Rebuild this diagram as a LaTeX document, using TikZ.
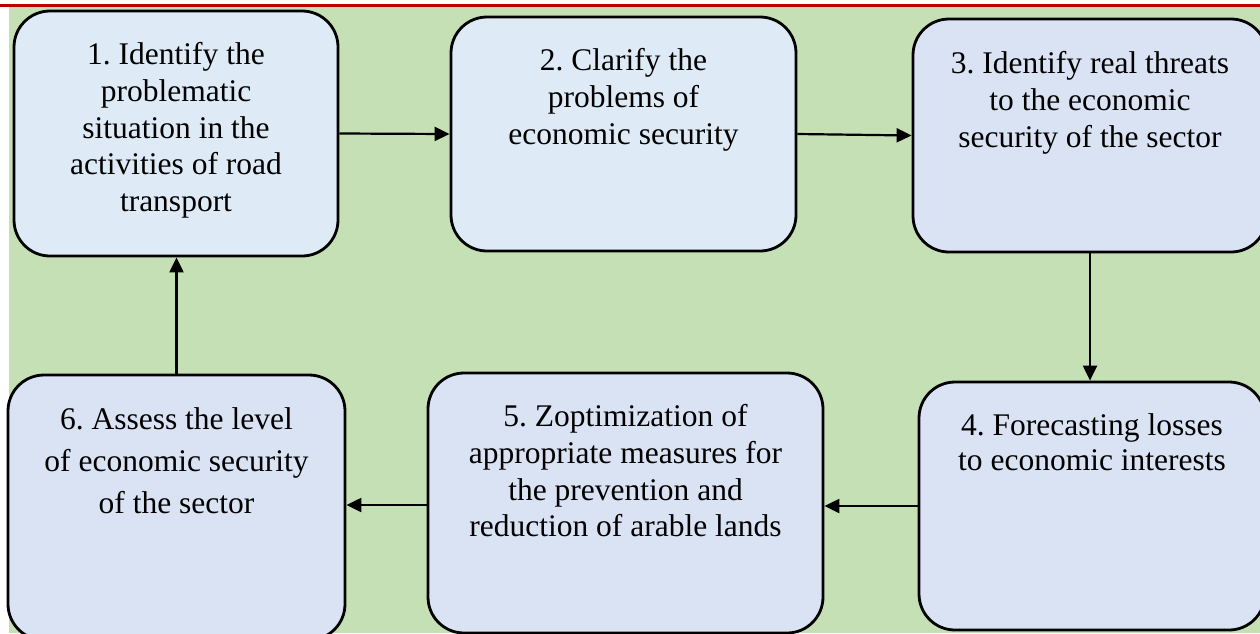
\documentclass[tikz,border=0pt]{standalone}
\usepackage{fontspec}
\setmainfont{Liberation Serif}
\frenchspacing
\usetikzlibrary{arrows.meta}
\definecolor{bggreen}{HTML}{C5E0B4}
\definecolor{lightblue}{HTML}{DEEBF7}
\definecolor{paleblue}{HTML}{DAE3F3}
\definecolor{topred}{HTML}{C00000}
\begin{document}
\begin{tikzpicture}[x=1pt,y=-1pt,
  stepbox/.style={draw=black, line width=2.8pt, rounded corners=36pt, inner sep=0pt},
  lbl/.style={align=center, inner sep=0pt, anchor=north, text=black, font=\rmfamily\fontsize{31.5}{36.7}\selectfont},
  arr/.style={line width=2.2pt, -{Triangle[length=15pt,width=14pt]}}]
\useasboundingbox (0,0) rectangle (1260,633);
\clip (0,0) rectangle (1260,633);
\fill[white] (0,0) rectangle (1260,633);
\fill[bggreen] (9,7) rectangle (1260,633);
\draw[topred, line width=2.5pt] (0,5.5) -- (1260,5.5);

\node[stepbox, fill=lightblue, minimum width=324pt, minimum height=245pt] (b1) at (176,133.5) {};
\node[stepbox, fill=lightblue, minimum width=345pt, minimum height=234pt] (b2) at (623.5,134) {};
\node[stepbox, fill=paleblue, minimum width=354pt, minimum height=233pt] (b3) at (1090,135.5) {};
\node[stepbox, fill=paleblue, minimum width=346pt, minimum height=248pt] (b4) at (1092,506) {};
\node[stepbox, fill=paleblue, minimum width=395pt, minimum height=260pt] (b5) at (625.5,503) {};
\node[stepbox, fill=paleblue, minimum width=337pt, minimum height=265pt] (b6) at (176.5,507.5) {};

\node[lbl] (t1) at ([yshift=-29.3pt]b1.north) {\strut 1. Identify the\\\strut problematic\\\strut situation in the\\\strut activities of road\\\strut transport};
\node[lbl] (t2) at ([yshift=-29.3pt]b2.north) {\strut 2. Clarify the\\\strut problems of\\\strut economic security};
\node[lbl] (t3) at ([yshift=-30.3pt]b3.north) {\strut 3. Identify real threats\\\strut to the economic\\\strut security of the sector};
\node[lbl, font=\rmfamily\fontsize{31.5}{35}\selectfont] (t4) at ([yshift=-30.5pt]b4.north) {\strut 4. Forecasting losses\\\strut to economic interests};
\node[lbl] (t5) at ([yshift=-29.3pt]b5.north) {\strut 5. Zoptimization of\\\strut appropriate measures for\\\strut the prevention and\\\strut reduction of arable lands};
\node[lbl, font=\rmfamily\fontsize{31.5}{42}\selectfont] (t6) at ([yshift=-26.6pt]b6.north) {\strut 6. Assess the level\\\strut of economic security\\\strut of the sector};

\draw[arr] (b1.east) -- (b2.west);
\draw[arr] (b2.east) -- (b3.west);
\draw[arr] (b3.south) -- (b3.south |- b4.north);
\draw[arr] (b4.west) -- (b4.west -| b5.east);
\draw[arr] ([yshift=-2pt]b5.west) -- ([yshift=-2pt]b5.west -| b6.east);
\draw[arr] (b6.north) -- (b6.north |- b1.south);
\end{tikzpicture}
\end{document}
